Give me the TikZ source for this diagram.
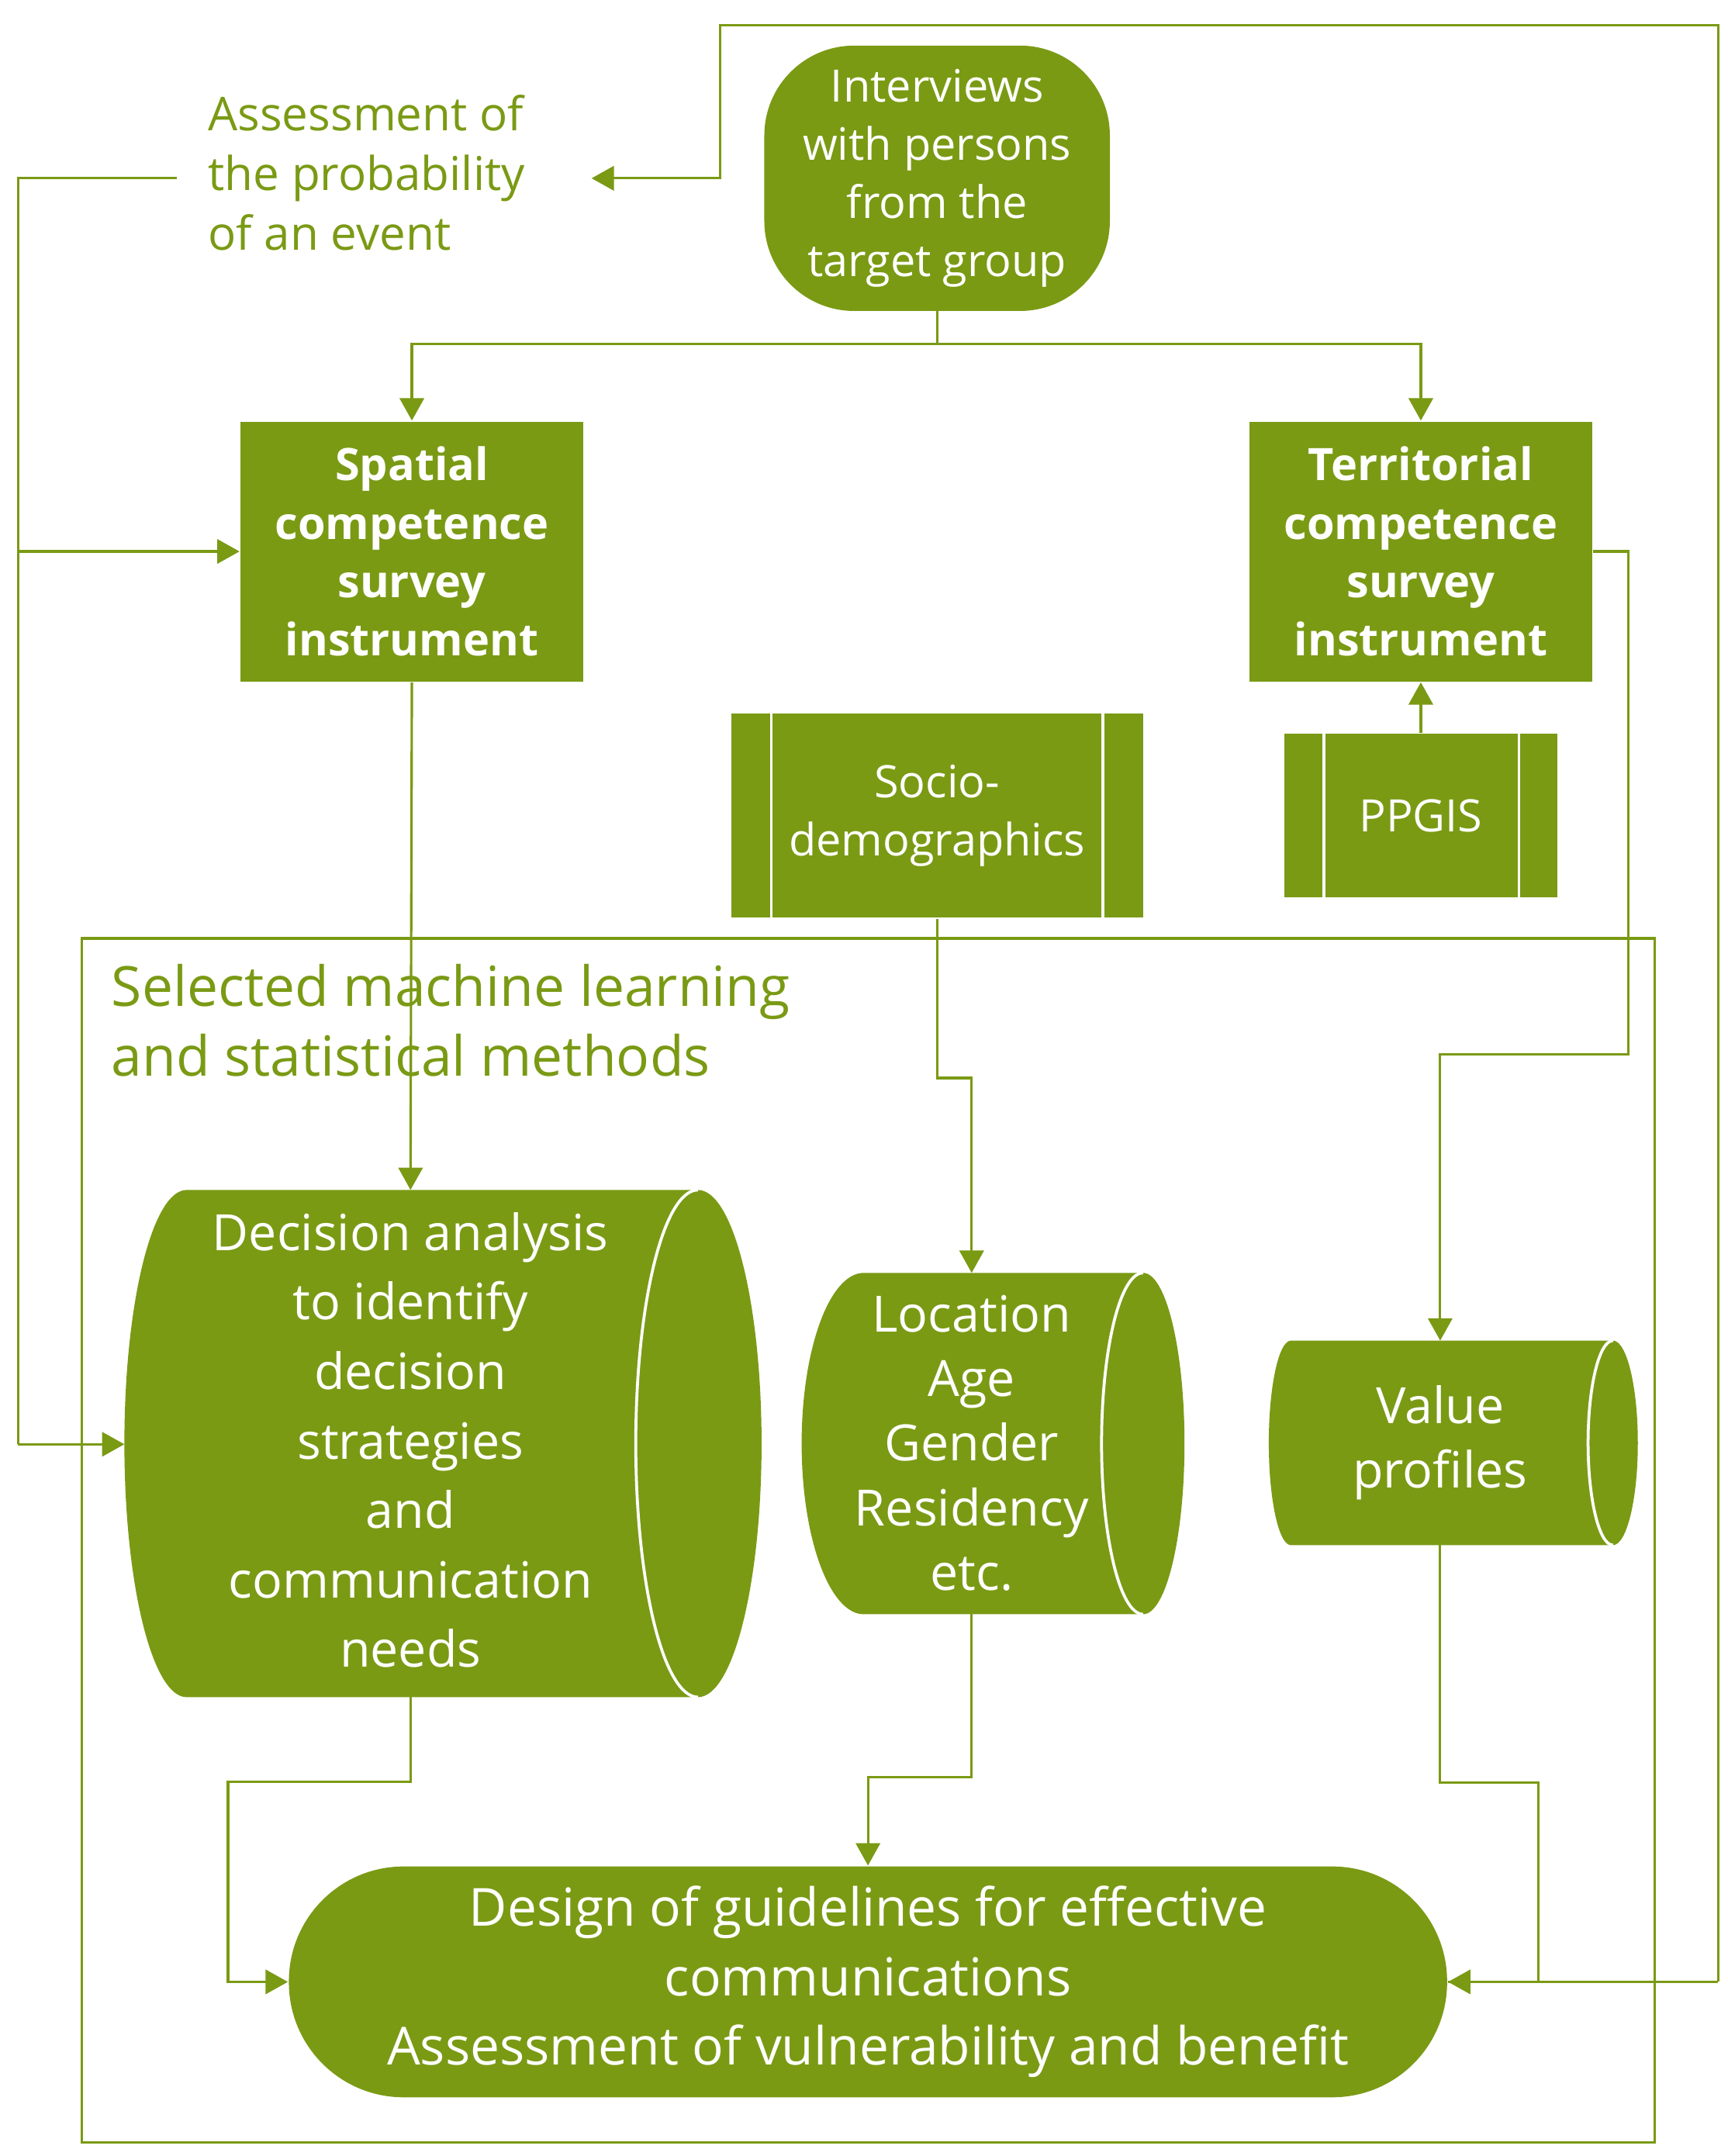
\documentclass[tikz,border=0pt]{standalone}
\usepackage{fontspec}
\setmainfont{Open Sans}
\usetikzlibrary{arrows.meta}
\definecolor{olive}{HTML}{7A9A14}
\begin{document}
\begin{tikzpicture}[x=0.1mm,y=-0.1mm,
  ln/.style={draw=olive,line width=0.5pt},
  ar/.style={ln,-{Triangle[length=4.6pt,width=5pt]}},
  wt/.style={text=white,align=center,font=\fontsize{9.2}{12}\selectfont},
  wtb/.style={wt,font=\fontsize{9.2}{12}\selectfont\bfseries},
  gt/.style={text=olive,align=left}]
\useasboundingbox (0,0) rectangle (1250,1560);
% frame
\draw[ln] (59,679) rectangle (1197,1550);
\node[gt,anchor=north west,inner sep=0,font=\fontsize{11.4}{14.3}\selectfont] (ml) at (80,697) {Selected machine learning\\and statistical methods};
% Interviews
\fill[olive,rounded corners=6.5mm] (553,33) rectangle (803,225);
\node[wt] (int) at (678,129) {Interviews\\with persons\\from the\\target group};
% boxes
\node[wtb,fill=olive,minimum width=24.8mm,minimum height=18.8mm,inner sep=0] (sp) at (298,399) {Spatial\\competence\\survey\\instrument};
\node[wtb,fill=olive,minimum width=24.8mm,minimum height=18.8mm,inner sep=0] (te) at (1028,399) {Territorial\\competence\\survey\\instrument};
\node[wt,fill=olive,minimum width=29.8mm,minimum height=14.8mm,inner sep=0] (so) at (678,590) {Socio-\\demographics};
\draw[white,line width=0.6pt] (558,516)--(558,664) (798,516)--(798,664);
\node[wt,fill=olive,minimum width=19.7mm,minimum height=11.8mm,inner sep=0] (pp) at (1028,590) {PPGIS};
\draw[white,line width=0.6pt] (958,531)--(958,649) (1099,531)--(1099,649);
% decision cylinder
\fill[olive] (135,1228) -- (505,1228) arc[start angle=90,end angle=-90,x radius=46,y radius=183.5] -- (135,861) arc[start angle=-90,end angle=-270,x radius=45,y radius=183.5] -- cycle;
\draw[white,line width=0.6pt] (505,861) arc[start angle=-90,end angle=-270,x radius=45,y radius=183.5];
\node[wt,font=\fontsize{10.3}{14.3}\selectfont] (dec) at (297,1042) {Decision analysis\\to identify\\decision\\strategies\\and\\communication\\needs};
% location cylinder
\fill[olive] (625,1168) -- (827,1168) arc[start angle=90,end angle=-90,x radius=30,y radius=123.5] -- (625,921) arc[start angle=-90,end angle=-270,x radius=45,y radius=123.5] -- cycle;
\draw[white,line width=0.6pt] (827,921) arc[start angle=-90,end angle=-270,x radius=30,y radius=123.5];
\node[wt,font=\fontsize{10.3}{13.3}\selectfont] (loc) at (703,1044) {Location\\Age\\Gender\\Residency\\etc.};
% value cylinder
\fill[olive] (934,1118) -- (1167,1118) arc[start angle=90,end angle=-90,x radius=18,y radius=74] -- (934,970) arc[start angle=-90,end angle=-270,x radius=16,y radius=74] -- cycle;
\draw[white,line width=0.6pt] (1167,970) arc[start angle=-90,end angle=-270,x radius=18,y radius=74];
\node[wt,font=\fontsize{10.3}{13.3}\selectfont] (val) at (1042,1044) {Value\\profiles};
% design
\node[wt,fill=olive,rounded corners=8.3mm,minimum width=83.8mm,minimum height=16.7mm,inner sep=0,font=\fontsize{10.8}{14.3}\selectfont] (des) at (628,1434) {Design of guidelines for effective\\communications\\Assessment of vulnerability and benefit};
% assessment text
\node[gt,anchor=north west,inner sep=0,font=\fontsize{9.6}{12.3}\selectfont] (ass) at (150,68) {Assessment of\\the probability\\of an event};
% connectors
\coordinate (c1) at (678,249);
\draw[ln] (678,225) -- (c1);
\draw[ar] (c1) -| (sp.north);
\draw[ar] (c1) -| (te.north);
\draw[ar] (sp.south) -- (297,861);
\draw[ar] (so.south) |- (703,780) -- (703,921);
\draw[ar] (pp.north) -- (te.south);
\draw[ar] (te.east) -| (1178,763) -| (1042,970);
\draw[ar] (297,1228) |- (165,1289) |- (des.west);
\draw[ar] (703,1168) |- (628,1286) -- (des.north);
\draw[ar] (1042,1118) |- (1113,1290) |- (des.east);
\draw[ar] (1243,1434) |- (521,18) |- (428,129);
\draw[ln] (des.east) -- (1243,1434);
\draw[ln] (128,129) -| (13,1045);
\draw[ar] (13,1045) -- (90,1045);
\draw[ar] (13,399) -- (sp.west);
\end{tikzpicture}
\end{document}
